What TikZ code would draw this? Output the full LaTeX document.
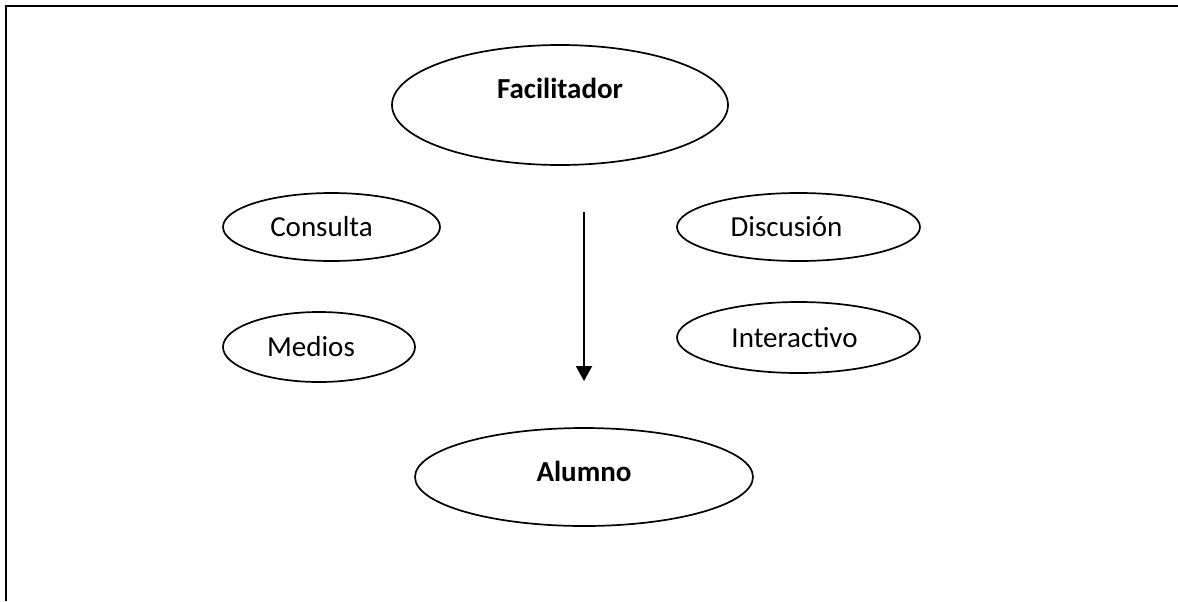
\documentclass[tikz,border=0pt]{standalone}
\usepackage{fontspec}
\setmainfont{Carlito}
\usetikzlibrary{shapes.geometric,arrows.meta}
\begin{document}
\begin{tikzpicture}[x=0.5pt,y=-0.5pt,
  oval/.style={draw=black,line width=0.85pt,ellipse,inner sep=0pt},
  lbl/.style={font=\fontsize{14.5pt}{17pt}\selectfont,inner sep=0pt},
  frameline/.style={line width=1.2pt},
  flow/.style={line width=1pt,-{Triangle[width=8pt,length=7.5pt]}}]
\useasboundingbox (0,0) rectangle (1178,601);
% frame (top and left only)
\coordinate (fbl) at (5.8,601);
\coordinate (ftl) at (5.8,5.8);
\coordinate (ftr) at (1178,5.8);
\draw[frameline] (fbl) -- (ftl) -- (ftr);
% ellipses
\node[oval,minimum width=168pt,minimum height=60pt,
  label={[lbl,yshift=8.5pt]center:\bfseries Facilitador}] (fac) at (560,105) {};
\node[oval,minimum width=108.5pt,minimum height=34pt,
  label={[lbl,xshift=-5pt]center:Consulta}] (con) at (331.5,227) {};
\node[oval,minimum width=96pt,minimum height=35pt,
  label={[lbl,xshift=-4pt]center:Medios}] (med) at (319,347) {};
\node[oval,minimum width=121.5pt,minimum height=34pt,
  label={[lbl,xshift=-6pt]center:Discusión}] (dis) at (798.5,227) {};
\node[oval,minimum width=121.5pt,minimum height=35.5pt,
  label={[lbl,xshift=-2pt]center:Interactivo}] (int) at (798.5,337.5) {};
\node[oval,minimum width=169pt,minimum height=49pt,
  label={[lbl,yshift=3pt]center:\bfseries Alumno}] (alu) at (584,477) {};
% arrow
\coordinate (as) at (584,212);
\coordinate (ae) at (584,381);
\draw[flow] (as) -- (ae);
\end{tikzpicture}
\end{document}
